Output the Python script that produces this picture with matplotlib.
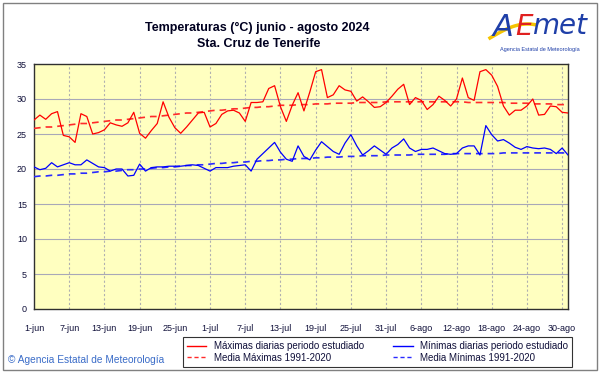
import matplotlib
matplotlib.use("Agg")
import matplotlib.pyplot as plt
from matplotlib.patches import Rectangle
from matplotlib.lines import Line2D
import numpy as np

plt.rcParams['font.family'] = ['Liberation Sans', 'DejaVu Sans']

# ---- data ----
tmax = [27.0, 27.7, 27.1, 27.9, 28.2, 24.8, 24.6, 23.8, 27.9, 27.5,
        25.0, 25.2, 25.6, 26.6, 26.3, 26.1, 26.6, 28.1, 25.1, 24.4,
        25.5, 26.5, 29.6, 27.4, 25.9, 25.1, 26.0, 27.0, 28.0, 28.1,
        26.0, 26.5, 27.8, 28.3, 28.4, 28.0, 26.8, 29.5, 29.5, 29.6,
        31.5, 31.9, 28.9, 26.8, 29.1, 30.9, 28.3, 31.0, 33.9, 34.2,
        30.2, 30.6, 31.9, 31.3, 31.1, 29.7, 30.3, 29.6, 28.8, 28.9,
        29.5, 30.4, 31.4, 32.1, 29.2, 30.2, 29.8, 28.5, 29.2, 30.4,
        29.8, 29.0, 30.0, 33.0, 30.2, 29.8, 33.9, 34.2, 33.4, 31.8,
        29.0, 27.7, 28.4, 28.4, 29.0, 30.0, 27.7, 27.8, 29.0, 28.9,
        28.1, 28.0]
tmin = [20.3, 19.9, 20.1, 20.9, 20.3, 20.6, 20.9, 20.6, 20.6, 21.3,
        20.8, 20.3, 20.2, 19.7, 20.0, 20.0, 19.0, 19.1, 20.7, 19.7,
        20.2, 20.3, 20.3, 20.4, 20.4, 20.4, 20.5, 20.6, 20.5, 20.1,
        19.7, 20.2, 20.2, 20.2, 20.4, 20.5, 20.6, 19.7, 21.4, 22.2,
        23.0, 23.8, 22.4, 21.4, 21.1, 23.3, 21.8, 21.3, 22.7, 23.9,
        23.2, 22.5, 22.1, 23.7, 24.9, 23.3, 22.0, 22.6, 23.3, 22.7,
        22.1, 23.0, 23.5, 24.3, 23.0, 22.5, 22.8, 22.8, 23.0, 22.6,
        22.2, 22.1, 22.2, 23.0, 23.3, 23.3, 22.0, 26.2, 24.9, 24.0,
        24.2, 23.7, 23.1, 22.8, 23.2, 23.0, 22.9, 23.0, 22.8, 22.2,
        23.0, 22.0]
nmax = [25.8, 25.9, 26.0, 26.0, 26.1, 26.2, 26.3, 26.4, 26.5, 26.5,
        26.6, 26.7, 26.8, 26.9, 27.0, 27.0, 27.1, 27.2, 27.3, 27.4,
        27.5, 27.5, 27.6, 27.7, 27.8, 27.9, 28.0, 28.0, 28.1, 28.2,
        28.3, 28.4, 28.4, 28.5, 28.6, 28.6, 28.7, 28.8, 28.8, 28.9,
        28.9, 29.0, 29.1, 29.1, 29.1, 29.2, 29.2, 29.2, 29.3, 29.3,
        29.3, 29.4, 29.4, 29.4, 29.4, 29.5, 29.5, 29.5, 29.5, 29.5,
        29.6, 29.6, 29.6, 29.6, 29.6, 29.6, 29.6, 29.6, 29.6, 29.6,
        29.6, 29.6, 29.6, 29.6, 29.5, 29.5, 29.5, 29.5, 29.5, 29.5,
        29.5, 29.4, 29.4, 29.4, 29.4, 29.3, 29.3, 29.3, 29.3, 29.2,
        29.2, 29.2]
nmin = [18.9, 19.0, 19.0, 19.1, 19.1, 19.2, 19.3, 19.3, 19.4, 19.4,
        19.5, 19.6, 19.6, 19.7, 19.7, 19.8, 19.9, 19.9, 20.0, 20.0,
        20.1, 20.2, 20.2, 20.3, 20.3, 20.4, 20.5, 20.5, 20.6, 20.6,
        20.7, 20.8, 20.8, 20.9, 20.9, 21.0, 21.0, 21.1, 21.1, 21.2,
        21.2, 21.3, 21.3, 21.4, 21.4, 21.5, 21.5, 21.5, 21.6, 21.6,
        21.7, 21.7, 21.7, 21.8, 21.8, 21.8, 21.9, 21.9, 21.9, 21.9,
        22.0, 22.0, 22.0, 22.0, 22.0, 22.1, 22.1, 22.1, 22.1, 22.1,
        22.1, 22.2, 22.2, 22.2, 22.2, 22.2, 22.2, 22.2, 22.2, 22.2,
        22.3, 22.3, 22.3, 22.3, 22.3, 22.3, 22.3, 22.3, 22.3, 22.3,
        22.3, 22.3]
xtick_labels = ['1-jun', '7-jun', '13-jun', '19-jun', '25-jun', '1-jul', '7-jul',
                '13-jul', '19-jul', '25-jul', '31-jul', '6-ago', '12-ago',
                '18-ago', '24-ago', '30-ago']
yticks = [0, 5, 10, 15, 20, 25, 30, 35]
legend_labels = ['Máximas diarias periodo estudiado', 'Media Máximas 1991-2020',
                 'Mínimas diarias periodo estudiado', 'Media Mínimas 1991-2020']
title_lines = ['Temperaturas (°C) junio - agosto 2024', 'Sta. Cruz de Tenerife']

W, H = 601, 374
fig = plt.figure(figsize=(W / 100, H / 100), dpi=100)
fig.patch.set_facecolor('white')

def fx(px):
    return px / W

def fy(py):
    return 1 - py / H

# outer frame
fig.add_artist(Rectangle((fx(3), fy(370)), fx(594), (367) / H, transform=fig.transFigure,
                         fill=False, edgecolor='#808080', lw=1.0))

ax = fig.add_axes([fx(34), fy(309), fx(534), (309 - 64) / H])
ax.set_facecolor('#FFFFC0')
days = np.arange(len(tmax))

ax.plot(days, tmax, color='#FF0000', lw=0.9, zorder=4)
ax.plot(days, nmax, color='#FF2A2A', lw=1.2, ls=(0, (4, 3)), zorder=3)
ax.plot(days, tmin, color='#0000FF', lw=0.9, zorder=4)
ax.plot(days, nmin, color='#2A2AFF', lw=1.2, ls=(0, (4, 3)), zorder=3)

ax.set_xlim(0, 91)
ax.set_ylim(0, 35)
ax.set_yticks(yticks)
ax.set_xticks(np.arange(0, 91, 6))
ax.set_xticklabels(xtick_labels)
for y in yticks[1:-1]:
    ax.axhline(y, color='#A8A8B8', lw=0.8, zorder=1)
for x in np.arange(6, 91, 6):
    ax.axvline(x, color='#B0B0B0', lw=0.8, ls=(0, (2, 2)), zorder=1)
ax.tick_params(axis='both', length=0, labelsize=6.5, labelcolor='#10103A')
ax.tick_params(axis='x', pad=11)
ax.tick_params(axis='y', pad=5)
for s in ax.spines.values():
    s.set_color('#303030')
    s.set_linewidth(1.0)

# titles
fig.text(fx(257), fy(28), title_lines[0], ha='center', va='center',
         fontsize=9, fontweight='bold', color='#000020')
fig.text(fx(259), fy(44), title_lines[1], ha='center', va='center',
         fontsize=9, fontweight='bold', color='#000020')

# logo (approximate)
fig.text(fx(503), fy(28), 'A', ha='center', va='center', fontsize=22,
         color='#1F3FA8', fontstyle='italic', family='DejaVu Sans')
fig.text(fx(524), fy(27), 'E', ha='center', va='center', fontsize=20,
         color='#E02020', fontstyle='italic', family='DejaVu Sans')
fig.text(fx(560), fy(26), 'met', ha='center', va='center', fontsize=20,
         color='#1F3FA8', fontstyle='italic', family='DejaVu Sans')
t = np.linspace(0, 1, 30)
xs = fx(490 + 45 * t)
ys = fy(38 - 14 * np.sin(t * np.pi * 0.6))
fig.add_artist(Line2D(xs, ys, transform=fig.transFigure, color='#F5C400', lw=2.5))
fig.text(fx(540), fy(49), 'Agencia Estatal de Meteorología', ha='center', va='center',
         fontsize=4, color='#1F3FA8')

# copyright
fig.text(fx(8), fy(360), '© Agencia Estatal de Meteorología', ha='left', va='center',
         fontsize=7.3, color='#3A6CC8')

# legend
handles = [Line2D([], [], color='#FF0000', lw=1.0),
           Line2D([], [], color='#FF2A2A', lw=1.0, ls=(0, (3, 2))),
           Line2D([], [], color='#0000FF', lw=1.0),
           Line2D([], [], color='#2A2AFF', lw=1.0, ls=(0, (3, 2)))]
leg = fig.legend(handles, legend_labels, ncol=2, loc='center',
                 bbox_to_anchor=(fx(377.5), fy(352)), fontsize=7.0,
                 frameon=True, fancybox=False, edgecolor='#000000',
                 handlelength=2.0, handletextpad=0.8, columnspacing=3.0,
                 borderpad=0.4, labelspacing=0.15)
leg.get_frame().set_linewidth(0.8)
for txt in leg.get_texts():
    txt.set_color('#10103A')

fig.savefig('out.png', dpi=100)
